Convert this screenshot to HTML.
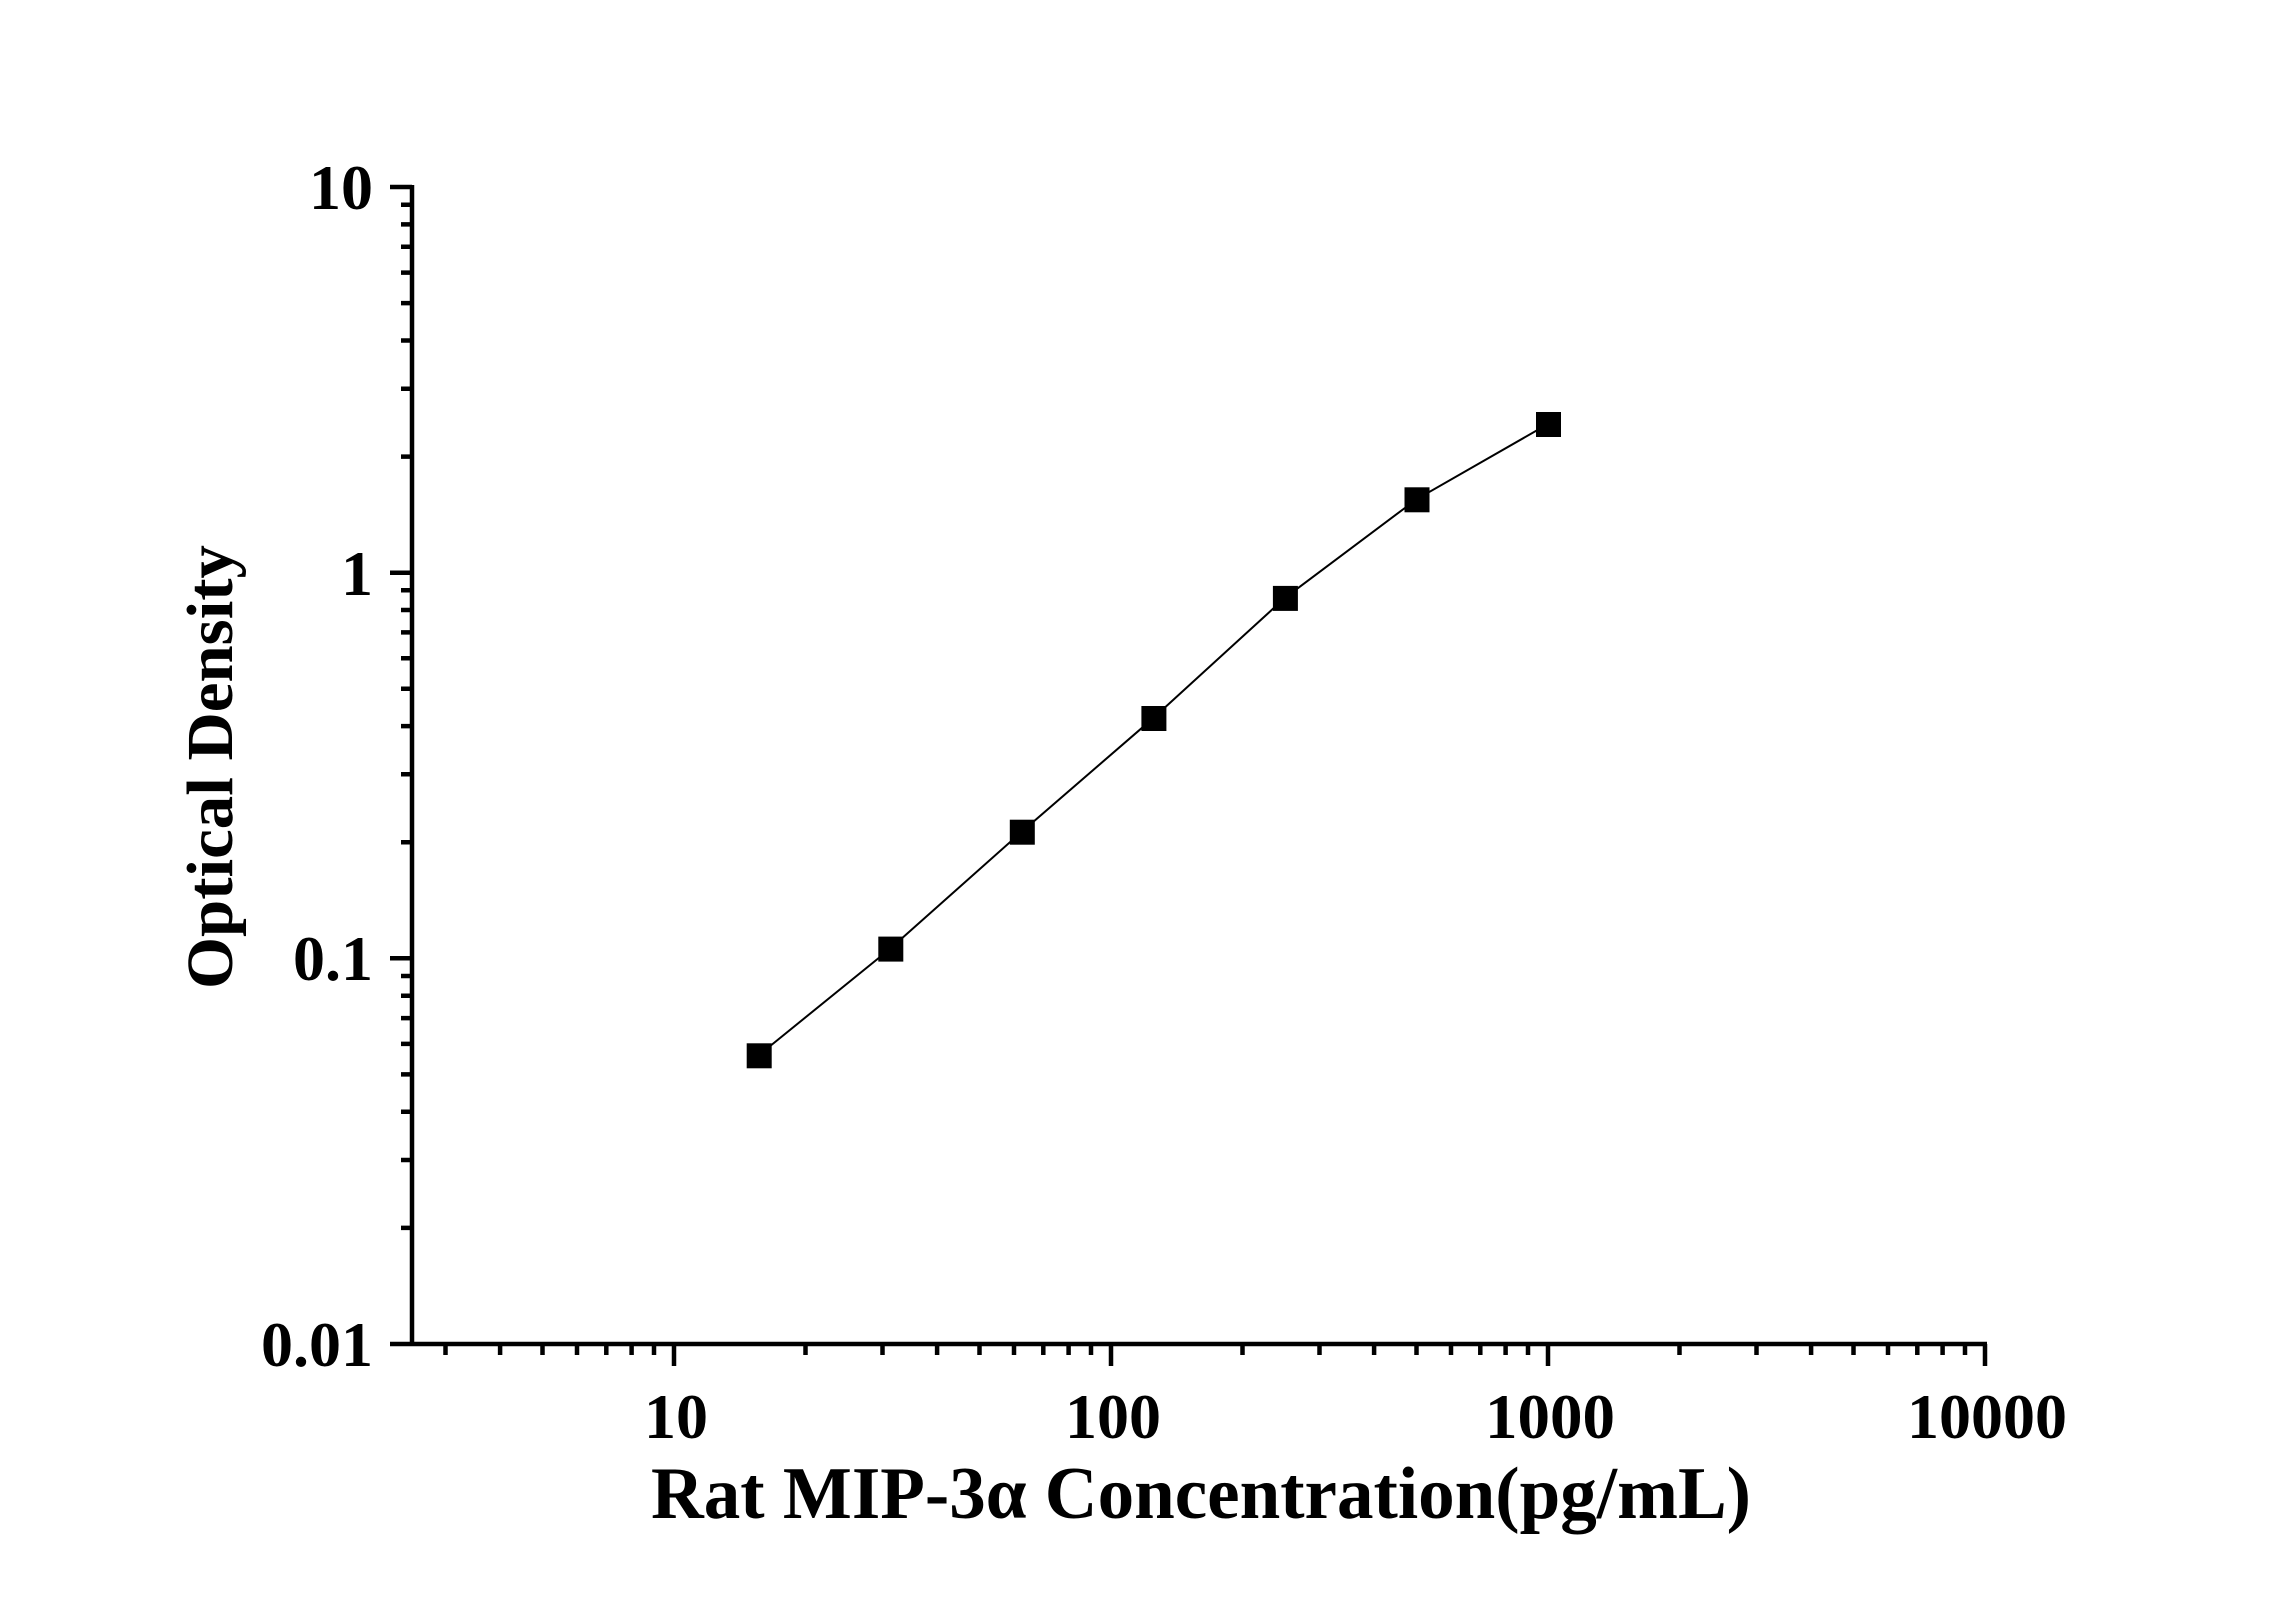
<!DOCTYPE html>
<html><head><meta charset="utf-8"><style>html,body{margin:0;padding:0;background:#fff}svg{display:block}</style></head>
<body>
<svg width="2296" height="1604" viewBox="0 0 2296 1604" xmlns="http://www.w3.org/2000/svg">
<rect width="2296" height="1604" fill="#fff"/>
<g stroke="#000" stroke-width="4.5" fill="none">
<line x1="412" y1="185" x2="412" y2="1346"/>
<line x1="390" y1="1344" x2="1987" y2="1344"/>
<line x1="390" y1="187" x2="412" y2="187"/>
<line x1="390" y1="572.7" x2="412" y2="572.7"/>
<line x1="390" y1="958.3" x2="412" y2="958.3"/>
<path d="M401 1227.9H412M401 1160H412M401 1111.8H412M401 1074.4H412M401 1043.9H412M401 1018.1H412M401 995.7H412M401 976H412
M401 842.2H412M401 774.3H412M401 726.1H412M401 688.7H412M401 658.2H412M401 632.4H412M401 610H412M401 590.3H412
M401 456.6H412M401 388.7H412M401 340.5H412M401 303.1H412M401 272.6H412M401 246.8H412M401 224.4H412M401 204.7H412"/>
<path d="M674 1344V1366M1111 1344V1366M1548 1344V1366M1985 1344V1366"/>
<path d="M445.5 1344V1355M500.1 1344V1355M542.5 1344V1355M577 1344V1355M606.3 1344V1355M631.6 1344V1355M654 1344V1355
M805.5 1344V1355M882.5 1344V1355M937.1 1344V1355M979.5 1344V1355M1014 1344V1355M1043.3 1344V1355M1068.6 1344V1355M1091 1344V1355
M1242.5 1344V1355M1319.5 1344V1355M1374.1 1344V1355M1416.5 1344V1355M1451 1344V1355M1480.3 1344V1355M1505.6 1344V1355M1528 1344V1355
M1679.5 1344V1355M1756.5 1344V1355M1811.1 1344V1355M1853.5 1344V1355M1888 1344V1355M1917.3 1344V1355M1942.6 1344V1355M1965 1344V1355"/>
</g>
<polyline points="758.7,1055.3 890.3,948.6 1021.8,831.7 1153.4,718 1284.9,597.9 1416.5,499.3 1548,424" fill="none" stroke="#000" stroke-width="2"/>
<g fill="#000">
<rect x="746.7" y="1043.3" width="25" height="25"/>
<rect x="878.3" y="936.6" width="25" height="25"/>
<rect x="1009.8" y="819.7" width="25" height="25"/>
<rect x="1141.4" y="706" width="25" height="25"/>
<rect x="1272.9" y="585.9" width="25" height="25"/>
<rect x="1404.5" y="487.3" width="25" height="25"/>
<rect x="1536" y="412" width="25" height="25"/>
</g>
<g font-family="Liberation Serif, serif" font-weight="bold" fill="#000">
<g font-size="64" text-anchor="end">
<text x="373" y="209">10</text>
<text x="373" y="595">1</text>
<text x="373" y="980">0.1</text>
<text x="373" y="1366">0.01</text>
</g>
<g font-size="64" text-anchor="middle">
<text x="676" y="1438" textLength="64" lengthAdjust="spacingAndGlyphs">10</text>
<text x="1113" y="1438" textLength="96" lengthAdjust="spacingAndGlyphs">100</text>
<text x="1550" y="1438" textLength="130" lengthAdjust="spacingAndGlyphs">1000</text>
<text x="1987" y="1438" textLength="160" lengthAdjust="spacingAndGlyphs">10000</text>
</g>
<text x="1201" y="1518" font-size="74" text-anchor="middle" textLength="1100" lengthAdjust="spacingAndGlyphs">Rat MIP-3α Concentration(pg/mL)</text>
<text transform="translate(232,767) rotate(-90)" font-size="66" text-anchor="middle" textLength="444" lengthAdjust="spacingAndGlyphs">Optical Density</text>
</g>
</svg>
</body></html>
